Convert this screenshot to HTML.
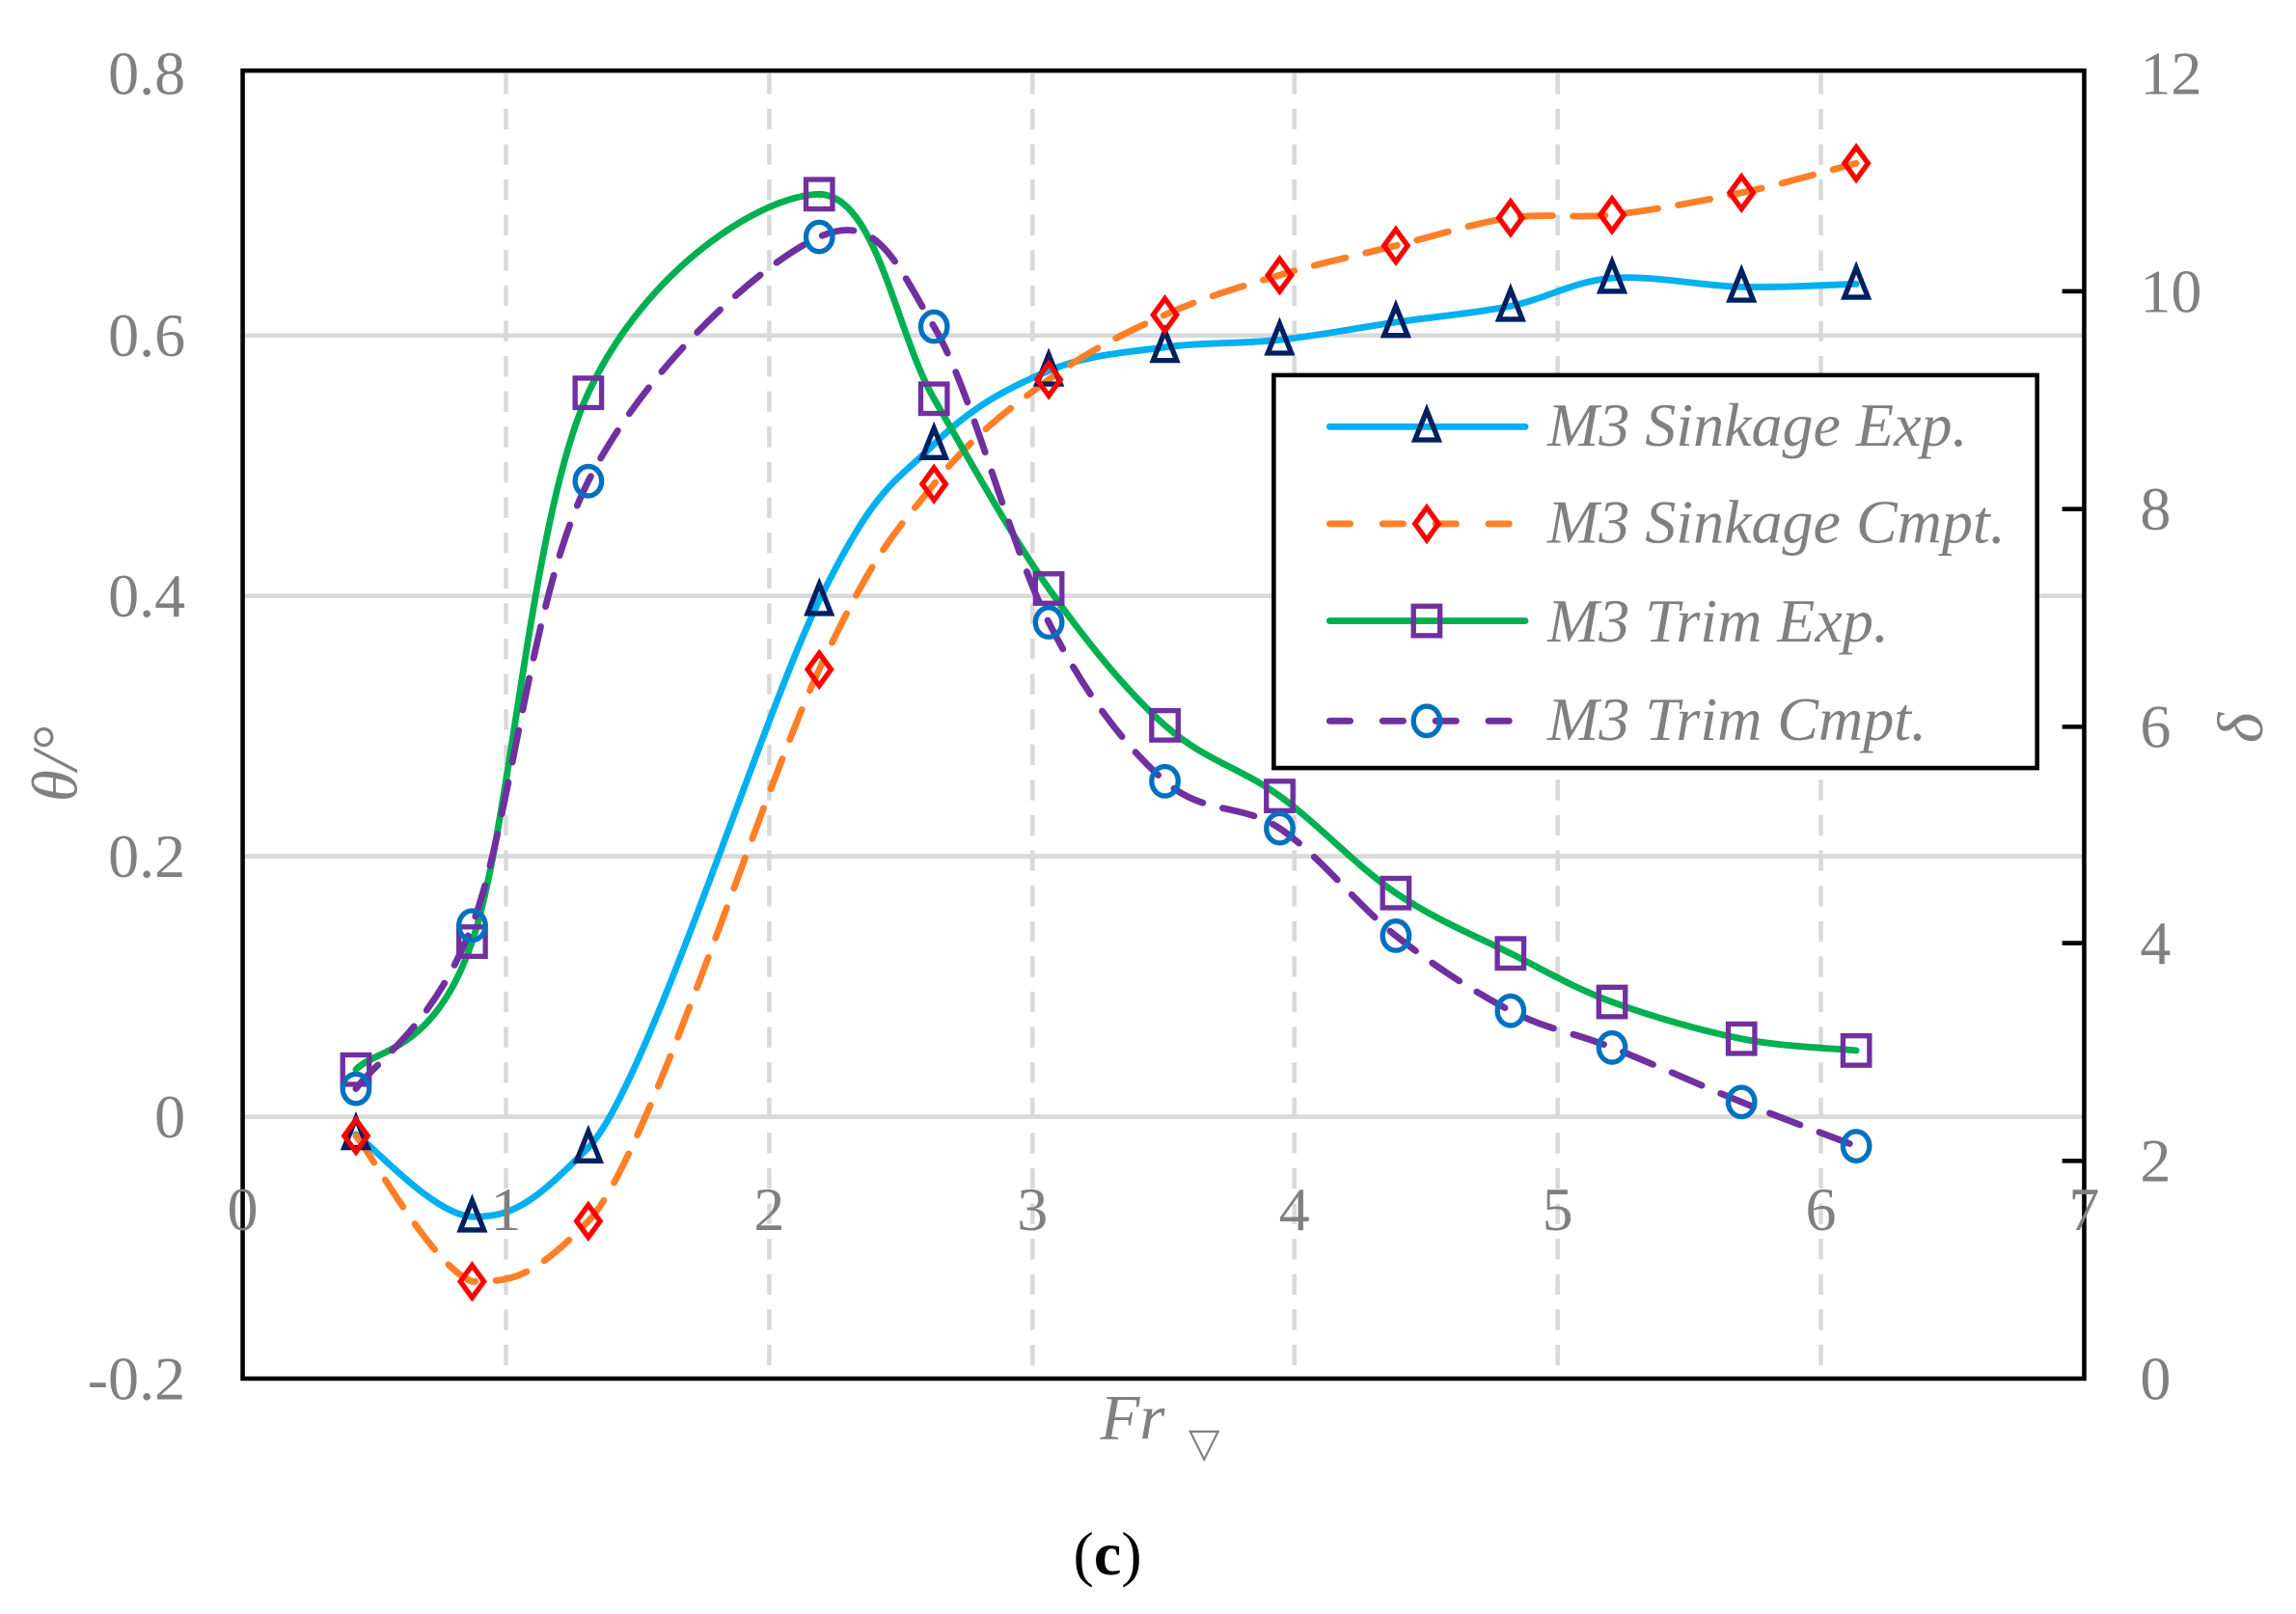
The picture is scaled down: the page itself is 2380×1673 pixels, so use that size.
<!DOCTYPE html>
<html><head><meta charset="utf-8"><style>html,body{margin:0;padding:0;background:#fff}svg{display:block}</style></head>
<body>
<svg width="2380" height="1673" viewBox="0 0 1561 1097" preserveAspectRatio="none" xmlns="http://www.w3.org/2000/svg" font-family="Liberation Serif, serif">
<defs>
<marker id="mt" viewBox="0 0 30 30" refX="15" refY="15" markerWidth="30" markerHeight="30" markerUnits="userSpaceOnUse" overflow="visible"><polygon points="15,4 7,24 23,24" fill="none" stroke="#002060" stroke-width="3.5"/></marker>
<marker id="md" viewBox="0 0 30 30" refX="15" refY="15" markerWidth="30" markerHeight="30" markerUnits="userSpaceOnUse" overflow="visible"><polygon points="15,4 23,15 15,26 7,15" fill="none" stroke="#FF0000" stroke-width="3.5"/></marker>
<marker id="ms" viewBox="0 0 30 30" refX="15" refY="15" markerWidth="30" markerHeight="30" markerUnits="userSpaceOnUse" overflow="visible"><rect x="6" y="5" width="18" height="20" fill="none" stroke="#7030A0" stroke-width="3.5"/></marker>
<marker id="mc" viewBox="0 0 30 30" refX="15" refY="15" markerWidth="30" markerHeight="30" markerUnits="userSpaceOnUse" overflow="visible"><ellipse cx="15" cy="15" rx="9" ry="10" fill="none" stroke="#0070C0" stroke-width="3.5"/></marker>
</defs>
<rect width="1561" height="1097" fill="#fff"/>
<g stroke="#d9d9d9" stroke-width="3">
<line x1="165" y1="228" x2="1417" y2="228"/><line x1="165" y1="405" x2="1417" y2="405"/><line x1="165" y1="582" x2="1417" y2="582"/><line x1="165" y1="759" x2="1417" y2="759"/>
</g>
<g stroke="#d9d9d9" stroke-width="3" stroke-dasharray="14,10">
<line x1="344" y1="50" x2="344" y2="937"/><line x1="523" y1="50" x2="523" y2="937"/><line x1="702" y1="50" x2="702" y2="937"/><line x1="880" y1="50" x2="880" y2="937"/><line x1="1059" y1="50" x2="1059" y2="937"/><line x1="1238" y1="50" x2="1238" y2="937"/>
</g>
<g fill="none" stroke-width="4.5" stroke-linecap="round">
<path id="p1" stroke="#00B0F0" d="M242,771 C255.2,780.3 294.7,825.5 321,827 C347.3,827 360.7,820 400,780 C439.3,740 517.8,487.7 557,408 C596.2,328.3 609,328 635,302 C661,276 686.8,263 713,252 C739.2,241 765.8,239.5 792,236 C818.2,232.5 843.8,233.8 870,231 C896.2,228.2 922.8,222.8 949,219 C975.2,215.2 1002.5,213 1027,208 C1051.5,203 1069.8,191.2 1096,189 C1122.2,186.8 1156.3,194.3 1184,195 C1211.7,195.7 1249,193.3 1262,193"/>
<path id="p2" stroke="#FF7F27" stroke-dasharray="22,14" d="M242,772 C255.2,788.5 294.7,861.3 321,871 C347.3,871 360.7,870 400,830 C439.3,790 517.8,538.5 557,455 C596.2,371.5 609,361.8 635,329 C661,296.2 686.8,277.2 713,258 C739.2,238.8 765.8,225.8 792,214 C818.2,202.2 843.8,194.8 870,187 C896.2,179.2 922.8,173.5 949,167 C975.2,160.5 1002.5,151.5 1027,148 C1051.5,144.5 1069.8,148.8 1096,146 C1122.2,143.2 1156.3,136.8 1184,131 C1211.7,125.2 1249,114.3 1262,111"/>
<path id="p3" stroke="#00B050" d="M242,727 C255.2,712.5 294.7,716.7 321,640 C347.3,563.3 360.7,351.7 400,267 C439.3,182.3 517.8,132.7 557,132 C596.2,132.7 609,226.3 635,271 C661,315.7 686.8,363 713,400 C739.2,437 765.8,469.5 792,493 C818.2,516.5 843.8,522 870,541 C896.2,560 922.8,589.2 949,607 C975.2,624.8 1002.5,635.7 1027,648 C1051.5,660.3 1069.8,671.3 1096,681 C1122.2,690.7 1156.3,700.5 1184,706 C1211.7,711.5 1249,712.7 1262,714"/>
<path id="p4" stroke="#7030A0" stroke-dasharray="22,14" d="M242,740 C255.2,721.5 294.7,697.8 321,629 C347.3,560.2 360.7,405 400,327 C439.3,249 517.8,178.5 557,161 C596.2,143.5 609,178.3 635,222 C661,265.7 686.8,371.5 713,423 C739.2,474.5 765.8,507.7 792,531 C818.2,554.3 843.8,545.5 870,563 C896.2,580.5 922.8,615.3 949,636 C975.2,656.7 1002.5,674.3 1027,687 C1051.5,699.7 1069.8,701.7 1096,712 C1122.2,722.3 1156.3,737.8 1184,749 C1211.7,760.2 1249,774 1262,779"/>
</g>
<g fill="none" stroke="none">
<polyline marker-start="url(#mt)" marker-mid="url(#mt)" marker-end="url(#mt)" points="242,771 321,827 400,780 557,408 635,302 713,252 792,236 870,231 949,219 1027,208 1096,189 1184,195 1262,193"/>
<polyline marker-start="url(#md)" marker-mid="url(#md)" marker-end="url(#md)" points="242,772 321,871 400,830 557,455 635,329 713,258 792,214 870,187 949,167 1027,148 1096,146 1184,131 1262,111"/>
<polyline marker-start="url(#ms)" marker-mid="url(#ms)" marker-end="url(#ms)" points="242,727 321,640 400,267 557,132 635,271 713,400 792,493 870,541 949,607 1027,648 1096,681 1184,706 1262,714"/>
<polyline marker-start="url(#mc)" marker-mid="url(#mc)" marker-end="url(#mc)" points="242,740 321,629 400,327 557,161 635,222 713,423 792,531 870,563 949,636 1027,687 1096,712 1184,749 1262,779"/>
</g>
<rect x="165" y="48" width="1252" height="889" fill="none" stroke="#000" stroke-width="3"/>
<g stroke="#000" stroke-width="3">
<line x1="1402" y1="198" x2="1417" y2="198"/><line x1="1402" y1="346" x2="1417" y2="346"/><line x1="1402" y1="494" x2="1417" y2="494"/><line x1="1402" y1="641" x2="1417" y2="641"/><line x1="1402" y1="789" x2="1417" y2="789"/>
</g>
<g fill="#808080" font-size="42" text-anchor="end">
<text x="126" y="64">0.8</text><text x="126" y="242">0.6</text><text x="126" y="419">0.4</text><text x="126" y="596">0.2</text><text x="126" y="773">0</text><text x="126" y="951">-0.2</text>
</g>
<g fill="#808080" font-size="42" text-anchor="middle">
<text x="165" y="836">0</text><text x="344" y="836">1</text><text x="523" y="836">2</text><text x="702" y="836">3</text><text x="880" y="836">4</text><text x="1059" y="836">5</text><text x="1238" y="836">6</text><text x="1417" y="836">7</text>
</g>
<g fill="#808080" font-size="42">
<text x="1455" y="64">12</text><text x="1455" y="212">10</text><text x="1455" y="360">8</text><text x="1455" y="508">6</text><text x="1455" y="655">4</text><text x="1455" y="803">2</text><text x="1455" y="951">0</text>
</g>
<text x="0" y="0" transform="translate(52,545) rotate(-90)" fill="#808080" font-size="44" font-style="italic">θ/°</text>
<text x="0" y="0" transform="translate(1538,505) rotate(-90)" fill="#808080" font-size="44" font-style="italic">δ</text>
<text x="748" y="978" fill="#808080" font-size="44" font-style="italic">Fr</text>
<text x="808" y="990" fill="#808080" font-size="28">▽</text>
<text x="753" y="1070" fill="#000" font-size="42" text-anchor="middle">(<tspan font-weight="bold">c</tspan>)</text>
<rect x="866" y="255" width="519" height="267" fill="#fff" stroke="#000" stroke-width="3"/>
<g stroke-width="4.5" stroke-linecap="round">
<line x1="904" y1="290" x2="1037" y2="290" stroke="#00B0F0"/>
<line x1="904" y1="356" x2="1037" y2="356" stroke="#FF7F27" stroke-dasharray="14,22"/>
<line x1="904" y1="422" x2="1037" y2="422" stroke="#00B050"/>
<line x1="904" y1="490" x2="1037" y2="490" stroke="#7030A0" stroke-dasharray="14,22"/>
</g>
<g fill="none" stroke-width="3.5">
<polygon points="970,279 962,299 978,299" stroke="#002060"/>
<polygon points="970,345 978,356 970,367 962,356" stroke="#FF0000"/>
<rect x="961" y="412" width="18" height="20" stroke="#7030A0"/>
<ellipse cx="970" cy="490" rx="9" ry="10" stroke="#0070C0"/>
</g>
<g fill="#808080" font-size="42" font-style="italic">
<text x="1052" y="303">M3 Sinkage Exp.</text><text x="1052" y="369">M3 Sinkage Cmpt.</text><text x="1052" y="436">M3 Trim Exp.</text><text x="1052" y="503">M3 Trim Cmpt.</text>
</g>
</svg>
</body></html>
